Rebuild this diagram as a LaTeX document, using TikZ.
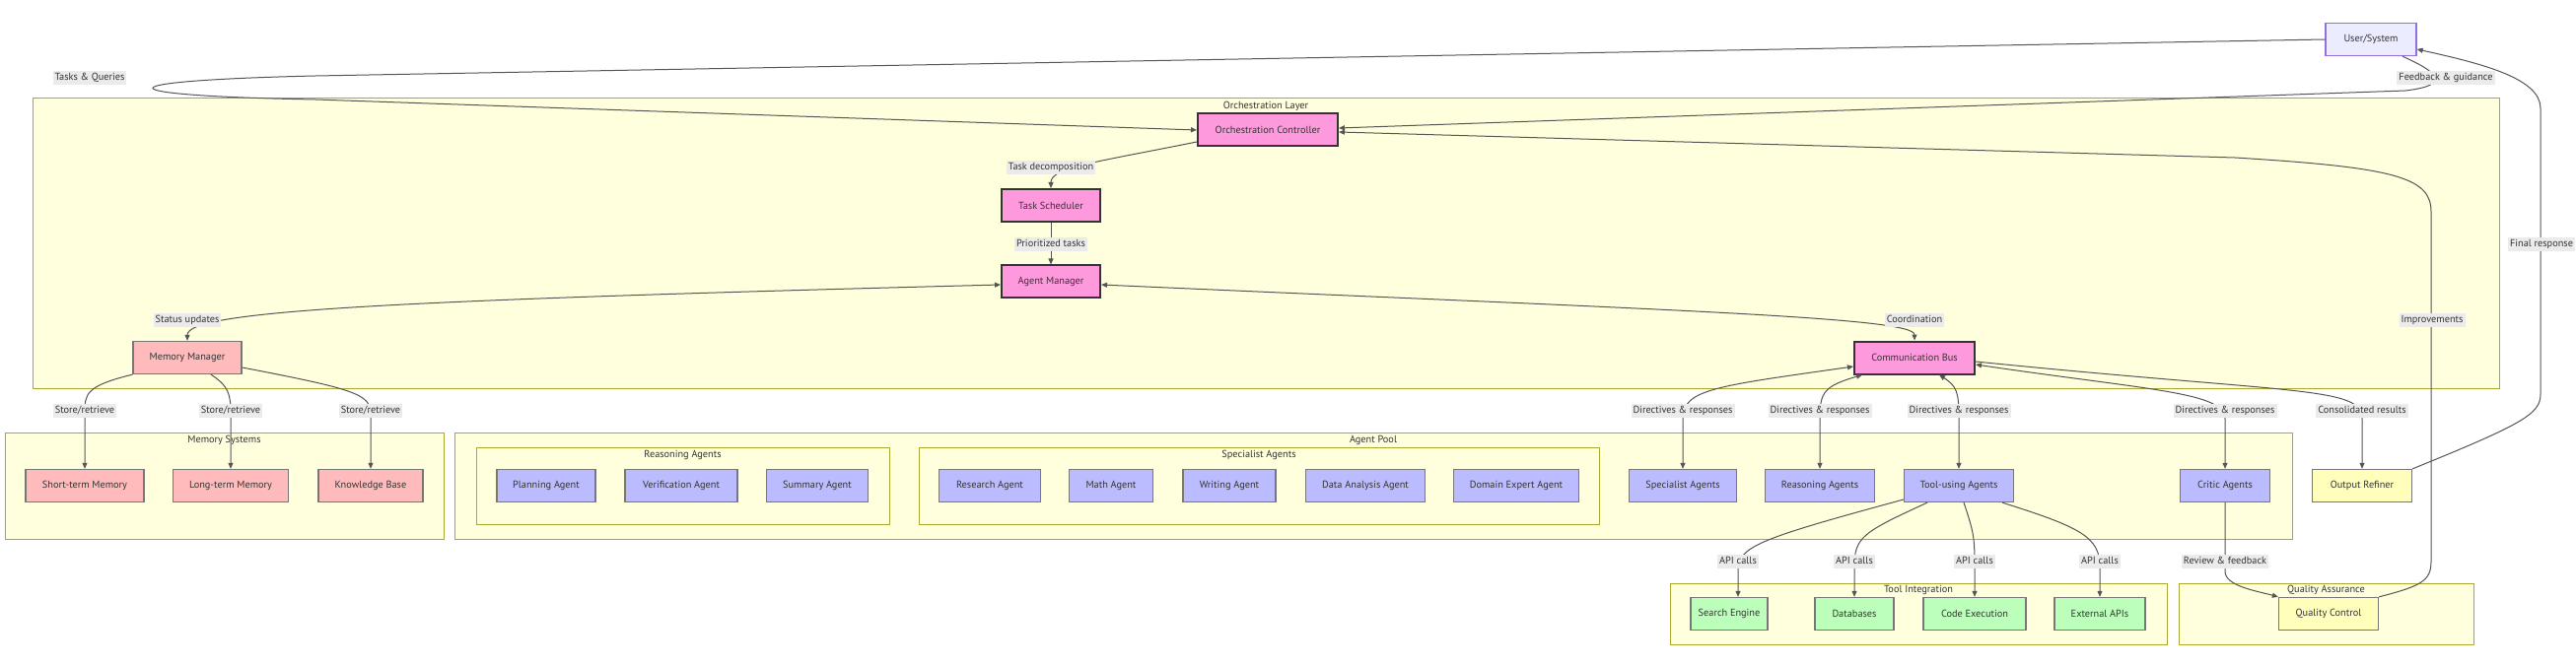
\documentclass[tikz,border=0pt]{standalone}
\usepackage{fontspec}
\setmainfont{PT Sans}
\usetikzlibrary{arrows.meta,calc}
\definecolor{clfill}{HTML}{FFFFDE}
\definecolor{clline}{HTML}{AAAA33}
\definecolor{pinkf}{HTML}{FF99DD}
\definecolor{memf}{HTML}{FFBBBB}
\definecolor{agf}{HTML}{BBBBFF}
\definecolor{toolf}{HTML}{BBFFBB}
\definecolor{yelf}{HTML}{FFFFBB}
\definecolor{userf}{HTML}{ECECFF}
\definecolor{userl}{HTML}{9370DB}
\definecolor{txt}{HTML}{333333}
\definecolor{edgec}{HTML}{555555}
\definecolor{nodel}{HTML}{777777}
\definecolor{lblf}{HTML}{EBEBEB}
\tikzset{
  box/.style={draw=nodel, line width=1.3pt, minimum height=33pt, inner sep=0pt, text=txt, anchor=center},
  pinkbox/.style={box, fill=pinkf, draw=txt, line width=2pt},
  membox/.style={box, fill=memf},
  agbox/.style={box, fill=agf},
  toolbox/.style={box, fill=toolf},
  yelbox/.style={box, fill=yelf},
  userbox/.style={box, fill=userf, draw=userl},
  cluster/.style={draw=clline, fill=clfill, line width=1pt, inner sep=0pt},
  ctitle/.style={text=txt, inner sep=0pt},
  lbl/.style={fill=lblf, text=txt, inner xsep=2pt, inner ysep=2pt, text height=7.5pt, text depth=2.3pt},
  edge/.style={draw=edgec, line width=1pt},
  arr/.style={edge, -{Triangle[length=6pt,width=5pt]}},
  darr/.style={edge, {Triangle[length=6pt,width=5pt]}-{Triangle[length=6pt,width=5pt]}}
}
\begin{document}
\begin{tikzpicture}[x=1pt,y=-1pt,font=\fontsize{10.3pt}{12pt}\selectfont]
\useasboundingbox (0,0) rectangle (2613,676);
\fill[white] (0,0) rectangle (2613,676);
% clusters
\node[cluster, minimum width=2502pt, minimum height=294pt] (orchL) at (1284,247) {};
\node[ctitle] (orchT) at (1284,108) {Orchestration Layer};
\node[cluster, minimum width=445pt, minimum height=108pt] (memS) at (227.5,493) {};
\node[ctitle] (memT) at (227.5,447) {Memory Systems};
\node[cluster, minimum width=1864pt, minimum height=108pt] (pool) at (1393,493) {};
\node[ctitle] (poolT) at (1393,447) {Agent Pool};
\node[cluster, minimum width=419pt, minimum height=78pt] (reasC) at (692.5,493) {};
\node[ctitle] (reasT) at (692.5,462) {Reasoning Agents};
\node[cluster, minimum width=690pt, minimum height=78pt] (specC) at (1277,493) {};
\node[ctitle] (specT) at (1277,462) {Specialist Agents};
\node[cluster, minimum width=504pt, minimum height=62pt] (toolC) at (1946,623) {};
\node[ctitle] (toolT) at (1946,599) {Tool Integration};
\node[cluster, minimum width=299pt, minimum height=62pt] (qaC) at (2359.5,623) {};
\node[ctitle] (qaT) at (2359.5,599) {Quality Assurance};
% nodes
\node[userbox, minimum width=92pt] (user) at (2405,40) {User/System};
\node[pinkbox, minimum width=142pt] (oc) at (1286,132) {Orchestration Controller};
\node[pinkbox, minimum width=100pt] (ts) at (1066,208.5) {Task Scheduler};
\node[pinkbox, minimum width=100pt] (am) at (1066,286) {Agent Manager};
\node[membox, minimum width=110pt] (mm) at (190,363) {Memory Manager};
\node[pinkbox, minimum width=122pt] (cb) at (1942,363) {Communication Bus};
\node[membox, minimum width=120pt] (stm) at (86,493) {Short-term Memory};
\node[membox, minimum width=117pt] (ltm) at (234,493) {Long-term Memory};
\node[membox, minimum width=106pt] (kb) at (376,493) {Knowledge Base};
\node[agbox, minimum width=100pt] (plan) at (554,493) {Planning Agent};
\node[agbox, minimum width=114pt] (verif) at (691,493) {Verification Agent};
\node[agbox, minimum width=103pt] (summ) at (829,493) {Summary Agent};
\node[agbox, minimum width=103pt] (research) at (1004,493) {Research Agent};
\node[agbox, minimum width=85pt] (math) at (1127,493) {Math Agent};
\node[agbox, minimum width=94pt] (writing) at (1247,493) {Writing Agent};
\node[agbox, minimum width=121pt] (dataan) at (1385,493) {Data Analysis Agent};
\node[agbox, minimum width=127pt] (domain) at (1538,493) {Domain Expert Agent};
\node[agbox, minimum width=109pt] (special) at (1707,493) {Specialist Agents};
\node[agbox, minimum width=111pt] (reason) at (1846,493) {Reasoning Agents};
\node[agbox, minimum width=111pt] (tooluse) at (1987,493) {Tool-using Agents};
\node[agbox, minimum width=91pt] (critic) at (2257,493) {Critic Agents};
\node[yelbox, minimum width=101pt] (refiner) at (2396,493) {Output Refiner};
\node[toolbox, minimum width=78pt] (search) at (1754,623) {Search Engine};
\node[toolbox, minimum width=80pt] (db) at (1881,623) {Databases};
\node[toolbox, minimum width=104pt] (code) at (2003,623) {Code Execution};
\node[toolbox, minimum width=92pt] (ext) at (2130,623) {External APIs};
\node[yelbox, minimum width=101pt] (qc) at (2362,623) {Quality Control};
% edges
\draw[arr] (user.west) -- (320,77) .. controls (100,82) and (100,97) .. (320,101) -- (oc.west);
\draw[arr] ($(user.south)+(32,0)$) .. controls (2470,72) and (2490,86) .. (2440,92) -- ($(oc.east)+(0,-2)$);
\draw[arr] ($(oc.west)+(0,12)$) .. controls (1110,165) and (1066,170) .. (ts.north);
\draw[arr] (ts.south) -- (am.north);
\draw[darr] ($(am.west)+(0,3)$) .. controls (400,305) and (190,315) .. (mm.north);
\draw[darr] ($(am.east)+(0,3)$) .. controls (1700,315) and (1942,322) .. (cb.north);
\draw[arr] (mm.south west) .. controls (86,392) and (86,400) .. (86,420) -- (stm.north);
\draw[arr] ($(mm.south)+(24,0)$) .. controls (232,392) and (234,400) .. (234,420) -- (ltm.north);
\draw[arr] ($(mm.east)+(0,10)$) .. controls (360,395) and (376,400) .. (376,420) -- (kb.north);
\draw[darr] ($(cb.west)+(0,9)$) .. controls (1740,392) and (1707,395) .. (1707,425) -- (special.north);
\draw[darr] ($(cb.south)+(-53,0)$) .. controls (1850,392) and (1846,398) .. (1846,425) -- (reason.north);
\draw[darr] ($(cb.south)+(25,0)$) .. controls (1985,392) and (1987,398) .. (1987,425) -- (tooluse.north);
\draw[darr] ($(cb.east)+(0,7)$) .. controls (2180,396) and (2257,398) .. (2257,425) -- (critic.north);
\draw[arr] ($(cb.east)+(0,4)$) .. controls (2330,400) and (2396,392) .. (2396,425) -- (refiner.north);
\draw[arr] ($(tooluse.west)+(0,14)$) .. controls (1780,548) and (1763,555) .. (1763,580) -- ($(search.north)+(9,0)$);
\draw[arr] ($(tooluse.south)+(-32,0)$) .. controls (1890,540) and (1881,545) .. (1881,575) -- (db.north);
\draw[arr] ($(tooluse.south)+(5,0)$) .. controls (2002,540) and (2003,545) .. (2003,575) -- (code.north);
\draw[arr] ($(tooluse.south)+(44,0)$) .. controls (2110,535) and (2130,545) .. (2130,575) -- (ext.north);
\draw[arr] (critic.south) -- (2257,580) .. controls (2257,595) and (2290,600) .. (qc.north west);
\draw[arr] (qc.north east) .. controls (2455,595) and (2466,590) .. (2466,570) -- (2466,215) .. controls (2466,180) and (2430,170) .. (2267,160) -- ($(oc.east)+(0,2)$);
\draw[arr] (refiner.north east) .. controls (2560,430) and (2577,420) .. (2577,400) -- (2577,110) .. controls (2577,80) and (2520,65) .. ($(user.east)+(0,10)$);
% edge labels
\node[lbl] (ltq) at (91,79) {Tasks \& Queries};
\node[lbl] (lfg) at (2481,79) {Feedback \& guidance};
\node[lbl] (ltd) at (1066,170) {Task decomposition};
\node[lbl] (lpt) at (1066,248) {Prioritized tasks};
\node[lbl] (lsu) at (190,325) {Status updates};
\node[lbl] (lco) at (1942,325) {Coordination};
\node[lbl] (lim) at (2467,325) {Improvements};
\node[lbl] (lfr) at (2578,248) {Final response};
\node[lbl] (lsr1) at (86,417) {Store/retrieve};
\node[lbl] (lsr2) at (234,417) {Store/retrieve};
\node[lbl] (lsr3) at (376,417) {Store/retrieve};
\node[lbl] (ldr1) at (1707,417) {Directives \& responses};
\node[lbl] (ldr2) at (1846,417) {Directives \& responses};
\node[lbl] (ldr3) at (1987,417) {Directives \& responses};
\node[lbl] (ldr4) at (2257,417) {Directives \& responses};
\node[lbl] (lcr) at (2396,417) {Consolidated results};
\node[lbl] (lapi1) at (1763,570) {API calls};
\node[lbl] (lapi2) at (1881,570) {API calls};
\node[lbl] (lapi3) at (2003,570) {API calls};
\node[lbl] (lapi4) at (2130,570) {API calls};
\node[lbl] (lrf) at (2257,570) {Review \& feedback};
\end{tikzpicture}
\end{document}
